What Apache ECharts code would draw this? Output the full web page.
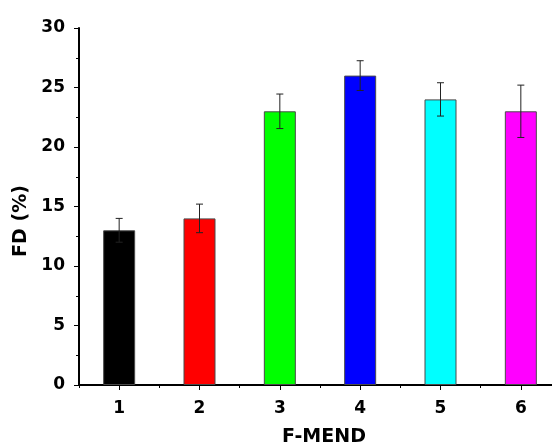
<!DOCTYPE html>
<html>
<head>
<meta charset="utf-8">
<script src="https://cdn.jsdelivr.net/npm/echarts@6/dist/echarts.min.js"></script>
<style>
  html, body { margin: 0; padding: 0; background: #fff; }
  #chart { width: 552px; height: 446px; }
</style>
</head>
<body>
<div id="chart"></div>
<script>
const categories = ['1', '2', '3', '4', '5', '6'];
const fdValues = [13, 14, 23, 26, 24, 23];
const fdErrors = [1.0, 1.2, 1.45, 1.25, 1.4, 2.2];
const barColors = ['#000000', '#ff0000', '#00ff00', '#0000ff', '#00ffff', '#ff00ff'];
const yTicks = [0, 30, 5];

const chart = echarts.init(document.getElementById('chart'));

const fontFamily = '"DejaVu Sans", sans-serif';

const option = {
    animation: false,
    textStyle: { fontFamily: fontFamily },
    // the plot runs past the right edge of the picture
    grid: { left: 79, top: 28, width: 482, height: 357, containLabel: false, outerBoundsMode: 'none' },
    xAxis: [
        {
            // boundary ticks + axis line
            type: 'category',
            data: categories,
            position: 'bottom',
            boundaryGap: true,
            name: 'F-MEND',
            nameLocation: 'middle',
            nameGap: 43,
            nameTextStyle: { fontSize: 19, fontWeight: 'bold', color: '#000', fontFamily: fontFamily, padding: [0, 0, 0, 8] },
            axisLine: { lineStyle: { color: '#000', width: 2 } },
            axisTick: { show: true, alignWithLabel: false, length: 3, lineStyle: { color: '#000', width: 1 } },
            axisLabel: { show: false },
            splitLine: { show: false }
        },
        {
            // labelled ticks
            type: 'category',
            data: categories,
            position: 'bottom',
            boundaryGap: true,
            axisLine: { show: false },
            axisTick: { show: true, alignWithLabel: true, length: 5, lineStyle: { color: '#000', width: 1 } },
            axisLabel: { fontSize: 17, fontWeight: 'bold', color: '#000', margin: 15, fontFamily: fontFamily },
            splitLine: { show: false }
        }
    ],
    yAxis: {
        type: 'value',
        min: yTicks[0],
        max: yTicks[1],
        interval: yTicks[2],
        name: 'FD (%)',
        nameLocation: 'middle',
        nameGap: 46,
        nameTextStyle: { fontSize: 19, fontWeight: 'bold', color: '#000', fontFamily: fontFamily, padding: [0, 29, 0, 0] },
        axisLine: { show: true, lineStyle: { color: '#000', width: 2 } },
        axisTick: { show: true, length: 5, lineStyle: { color: '#000', width: 1 } },
        minorTick: { show: true, splitNumber: 2, length: 3, lineStyle: { color: '#000', width: 1 } },
        axisLabel: { fontSize: 17, fontWeight: 'bold', color: '#000', margin: 14, fontFamily: fontFamily },
        splitLine: { show: false }
    },
    series: [
        {
            type: 'bar',
            xAxisIndex: 0,
            barWidth: 32,
            data: fdValues.map((v, i) => ({
                value: v,
                itemStyle: { color: barColors[i], borderColor: '#4a4a4a', borderWidth: 1 }
            }))
        },
        {
            type: 'custom',
            xAxisIndex: 0,
            z: 5,
            data: fdValues.map((v, i) => [i, v, fdErrors[i]]),
            renderItem(params, api) {
                const x = api.value(0);
                const v = api.value(1);
                const e = api.value(2);
                const top = api.coord([x, v + e]);
                const bot = api.coord([x, v - e]);
                const half = 3.5;
                const style = { stroke: '#222', lineWidth: 1 };
                return {
                    type: 'group',
                    children: [
                        { type: 'line', shape: { x1: top[0], y1: top[1], x2: bot[0], y2: bot[1] }, style },
                        { type: 'line', shape: { x1: top[0] - half, y1: top[1], x2: top[0] + half, y2: top[1] }, style },
                        { type: 'line', shape: { x1: bot[0] - half, y1: bot[1], x2: bot[0] + half, y2: bot[1] }, style }
                    ]
                };
            }
        }
    ]
};

chart.setOption(option);
</script>
</body>
</html>
